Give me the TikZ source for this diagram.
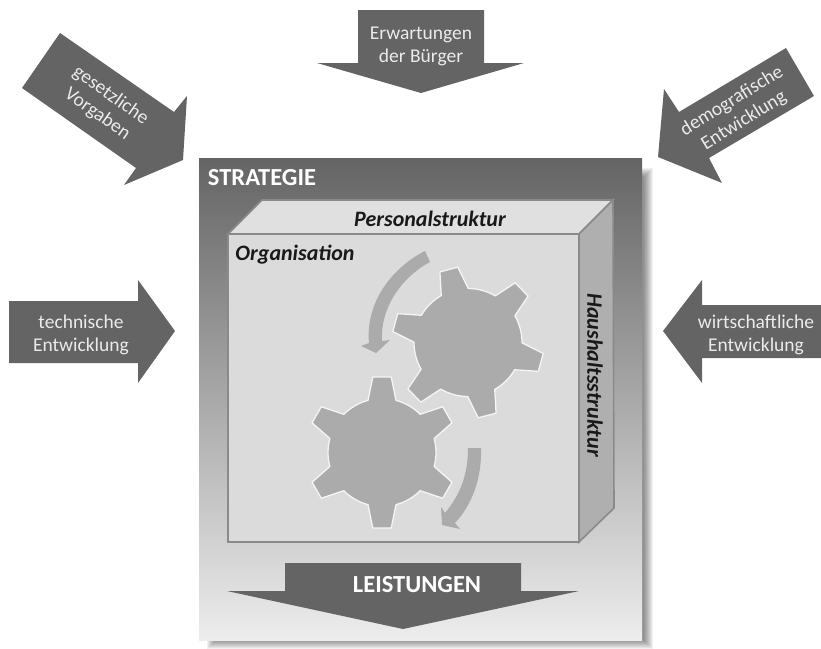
\documentclass[tikz,border=0pt]{standalone}
\usepackage{fontspec}
\setmainfont{Carlito}
\definecolor{arrowgray}{HTML}{646464}
\definecolor{curvegray}{HTML}{ABABAB}
\definecolor{boxline}{HTML}{8A8A8A}
\tikzset{
  bigarrow/.style={fill=arrowgray,draw=none},
  lighttext/.style={text=white!92!black,font=\fontsize{19.5}{23}\selectfont,align=center,inner sep=0pt},
  boldtitle/.style={text=white,font=\fontsize{24.5}{28}\selectfont\bfseries,inner sep=0pt},
  facelabel/.style={text=black!90,font=\fontsize{22}{26}\selectfont\bfseries\itshape,inner sep=0pt},
  gearshape/.style={fill=curvegray,draw=white!96!black,line width=1.3pt,line join=round},
  boxface/.style={draw=boxline,line width=1.6pt,line join=miter},
}
\newcommand{\gearat}[3]{% x, y, rotation
  \begin{scope}[shift={(#1,#2)}]
    \path[gearshape] (#3-15:54pt)
    \foreach \t in {0,60,...,300}{
      -- (#3+\t-15:54pt) -- (#3+\t-7:76pt) -- (#3+\t+7:76pt) -- (#3+\t+15:54pt)
      arc[start angle=#3+\t+15,end angle=#3+\t+45,radius=54pt]
    } -- cycle;
  \end{scope}}
\begin{document}
\begin{tikzpicture}[x=1pt,y=-1pt]
\useasboundingbox (0,0) rectangle (821,648);
% soft shadow of the panel
\foreach \o in {0,1,...,9}{
  \fill[black,opacity=0.055] (207+\o,168+\o) rectangle (653-\o,649-\o);
}
% panel
\shade[top color=arrowgray,bottom color=white!93!black] (199,158) rectangle (642,640);
% outer arrows
\fill[bigarrow] (60,33) -- (174,112) -- (187,96) -- (183,160) -- (124,185) -- (136,168) -- (22,88) -- cycle;
\fill[bigarrow] (358,10) -- (484,10) -- (484,63) -- (524,63) -- (421,93) -- (317,63) -- (358,63) -- cycle;
\fill[bigarrow] (664,89) -- (679,112) -- (786,48) -- (814,96) -- (709,158) -- (722,183) -- (658,157) -- cycle;
\fill[bigarrow] (9,301) -- (138,301) -- (138,280) -- (175,331) -- (138,383) -- (138,363) -- (9,363) -- cycle;
\fill[bigarrow] (663,331) -- (702,280) -- (702,305) -- (821,305) -- (821,358) -- (702,358) -- (702,383) -- cycle;
% box
\filldraw[boxface,fill=white!88!black] (228,234) -- (262,200) -- (613,200) -- (579,234) -- cycle;
\filldraw[boxface,fill=curvegray!95!white] (579,234) -- (613,200) -- (614,508) -- (579,542) -- cycle;
\filldraw[boxface,fill=white!86!black] (228,234) rectangle (579,542);
% gears
\gearat{382}{452.5}{90}
\gearat{468}{342.5}{104.7}
% curved arrows
\fill[curvegray] (425,251) .. controls (395,266) and (365,300) .. (369,343) -- (361,346) -- (376,353) -- (390,340) -- (382,341) .. controls (380,305) and (405,275) .. (430,262) -- cycle;
\fill[curvegray] (468,448) .. controls (468,475) and (460,495) .. (445,513) -- (441,507) -- (442,525) -- (460,529) -- (455,523) .. controls (472,505) and (482,478) .. (481,448) -- cycle;
% leistungen arrow
\fill[bigarrow] (285,563) -- (521,563) -- (521,591) -- (579,591) -- (403,629) -- (227,591) -- (285,591) -- cycle;
% labels
\node[boldtitle] (strategie) at (262,178) {STRATEGIE};
\node[boldtitle] (leistungen) at (417,585) {LEISTUNGEN};
\node[facelabel] (personal) at (430,219) {Personalstruktur};
\node[facelabel] (organisation) at (295,255) {Organisation};
\node[facelabel,rotate=-90] (haushalt) at (595,375) {Haushaltsstruktur};
\node[lighttext] (erwartung) at (421,46) {Erwartungen\\der Bürger};
\node[lighttext,rotate=-35] (gesetz) at (104,105) {gesetzliche\\Vorgaben};
\node[lighttext,rotate=31.5] (demo) at (738,111) {demografische\\Entwicklung};
\node[lighttext] (technisch) at (81,335) {technische\\Entwicklung};
\node[lighttext] (wirtschaft) at (756,335) {wirtschaftliche\\Entwicklung};
\end{tikzpicture}
\end{document}
